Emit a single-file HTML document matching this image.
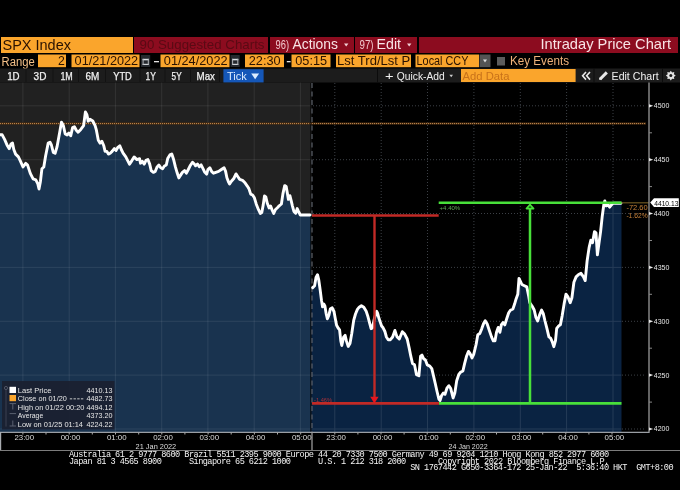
<!DOCTYPE html>
<html><head><meta charset="utf-8"><title>SPX Index Intraday Price Chart</title><style>
*{margin:0;padding:0;box-sizing:border-box}
html,body{width:680px;height:490px;background:#000;overflow:hidden}
body{position:relative;font-family:"Liberation Sans",sans-serif}
.ft{position:absolute;font-family:"Liberation Mono",monospace;font-size:8.6px;letter-spacing:-0.545px;line-height:8px;color:#f4f4f4;white-space:pre}
</style></head><body>
<svg style="position:absolute;left:0;top:0" width="680" height="490" viewBox="0 0 680 490" font-family="Liberation Sans, sans-serif"><rect x="1" y="37" width="132" height="16" fill="#faa52c"/><rect x="134" y="37" width="134" height="16" fill="#8c0c1f"/><rect x="270" y="37" width="84" height="16" fill="#8c0c1f"/><rect x="355" y="37" width="62" height="16" fill="#8c0c1f"/><rect x="419" y="37" width="259" height="16" fill="#8c0c1f"/><text x="2.50" y="50.00" font-size="14.4" fill="#2a1200" textLength="68.50" lengthAdjust="spacingAndGlyphs">SPX Index</text><text x="139.50" y="49.30" font-size="12.8" fill="#5a0a14" textLength="125.00" lengthAdjust="spacingAndGlyphs">90 Suggested Charts</text><text x="275.50" y="49.30" font-size="12" fill="#f1c6cc" textLength="13.50" lengthAdjust="spacingAndGlyphs">96)</text><text x="292.50" y="49.30" font-size="14" fill="#f8e4e6" textLength="45.50" lengthAdjust="spacingAndGlyphs">Actions</text><polygon points="344,43.5 348.4,43.5 346.2,46.5" fill="#f1d0d4"/><text x="359.50" y="49.30" font-size="12" fill="#f1c6cc" textLength="14.00" lengthAdjust="spacingAndGlyphs">97)</text><text x="376.50" y="49.30" font-size="14" fill="#f8e4e6" textLength="24.50" lengthAdjust="spacingAndGlyphs">Edit</text><polygon points="407,43.5 411.4,43.5 409.2,46.5" fill="#f1d0d4"/><text x="540.50" y="49.30" font-size="14.4" fill="#f8e4e6" textLength="130.50" lengthAdjust="spacingAndGlyphs">Intraday Price Chart</text><rect x="38" y="54.5" width="28" height="12.7" fill="#faa52c"/><rect x="71.5" y="54.5" width="68.0" height="12.7" fill="#faa52c"/><rect x="160.5" y="54.5" width="69.0" height="12.7" fill="#faa52c"/><rect x="245" y="54.5" width="39" height="12.7" fill="#faa52c"/><rect x="291.5" y="54.5" width="39.0" height="12.7" fill="#faa52c"/><rect x="336" y="54.5" width="75" height="12.7" fill="#faa52c"/><rect x="415.5" y="54.5" width="63.5" height="12.7" fill="#faa52c"/><text x="1.60" y="66.00" font-size="12" fill="#f4c088" textLength="33.20" lengthAdjust="spacingAndGlyphs">Range</text><text x="58.00" y="65.20" font-size="12" fill="#2a1200" textLength="6.80" lengthAdjust="spacingAndGlyphs">2</text><text x="74.60" y="65.20" font-size="12.4" fill="#2a1200" textLength="63.60" lengthAdjust="spacingAndGlyphs">01/21/2022</text><text x="163.80" y="65.20" font-size="12.4" fill="#2a1200" textLength="63.80" lengthAdjust="spacingAndGlyphs">01/24/2022</text><text x="248.80" y="65.20" font-size="12.4" fill="#2a1200" textLength="31.80" lengthAdjust="spacingAndGlyphs">22:30</text><text x="295.30" y="65.20" font-size="12.4" fill="#2a1200" textLength="31.80" lengthAdjust="spacingAndGlyphs">05:15</text><text x="337.00" y="65.20" font-size="12.4" fill="#2a1200" textLength="73.30" lengthAdjust="spacingAndGlyphs">Lst Trd/Lst P</text><text x="416.60" y="65.20" font-size="12.4" fill="#2a1200" textLength="51.80" lengthAdjust="spacingAndGlyphs">Local CCY</text><rect x="141" y="55" width="9.2" height="12" fill="#25292e"/><rect x="142.6" y="58.8" width="6.2" height="1.5" fill="#dde1e5"/><rect x="142.6" y="63.8" width="6.2" height="1.2" fill="#cfd3d7"/><rect x="142.6" y="58.8" width="1" height="6.2" fill="#aeb2b6"/><rect x="147.8" y="58.8" width="1" height="6.2" fill="#aeb2b6"/><rect x="230.5" y="55" width="9.2" height="12" fill="#25292e"/><rect x="232.1" y="58.8" width="6.2" height="1.5" fill="#dde1e5"/><rect x="232.1" y="63.8" width="6.2" height="1.2" fill="#cfd3d7"/><rect x="232.1" y="58.8" width="1" height="6.2" fill="#aeb2b6"/><rect x="237.3" y="58.8" width="1" height="6.2" fill="#aeb2b6"/><rect x="154" y="61" width="5" height="1.3" fill="#e4e4e4"/><rect x="286.8" y="61" width="3.8" height="1.3" fill="#e4e4e4"/><rect x="479.5" y="54.5" width="11" height="12.7" fill="#545454"/><polygon points="483,59.5 487,59.5 485,62.5" fill="#e0e0e0"/><rect x="497" y="57" width="8" height="8.5" fill="#5c5c5c"/><text x="510.00" y="65.20" font-size="12.2" fill="#f0b27a" textLength="59.00" lengthAdjust="spacingAndGlyphs">Key Events</text><rect x="0" y="68.5" width="680" height="14" fill="#1c1c1c"/><rect x="25.5" y="68.5" width="1" height="14" fill="#121212"/><rect x="52.5" y="68.5" width="1" height="14" fill="#121212"/><rect x="78" y="68.5" width="1" height="14" fill="#121212"/><rect x="105" y="68.5" width="1" height="14" fill="#121212"/><rect x="139.5" y="68.5" width="1" height="14" fill="#121212"/><rect x="164.5" y="68.5" width="1" height="14" fill="#121212"/><rect x="190" y="68.5" width="1" height="14" fill="#121212"/><rect x="219" y="68.5" width="1" height="14" fill="#121212"/><rect x="377" y="68.5" width="1" height="14" fill="#0c0c0c"/><rect x="593.5" y="68.5" width="1" height="14" fill="#0c0c0c"/><rect x="662" y="68.5" width="1" height="14" fill="#0c0c0c"/><text x="7.20" y="79.70" font-size="10" fill="#f0f0f0" textLength="12.40" lengthAdjust="spacingAndGlyphs" stroke="#f0f0f0" stroke-width="0.25">1D</text><text x="33.60" y="79.70" font-size="10" fill="#f0f0f0" textLength="12.80" lengthAdjust="spacingAndGlyphs" stroke="#f0f0f0" stroke-width="0.25">3D</text><text x="60.40" y="79.70" font-size="10" fill="#f0f0f0" textLength="12.40" lengthAdjust="spacingAndGlyphs" stroke="#f0f0f0" stroke-width="0.25">1M</text><text x="85.60" y="79.70" font-size="10" fill="#f0f0f0" textLength="13.80" lengthAdjust="spacingAndGlyphs" stroke="#f0f0f0" stroke-width="0.25">6M</text><text x="113.20" y="79.70" font-size="10" fill="#f0f0f0" textLength="18.60" lengthAdjust="spacingAndGlyphs" stroke="#f0f0f0" stroke-width="0.25">YTD</text><text x="145.60" y="79.70" font-size="10" fill="#f0f0f0" textLength="10.40" lengthAdjust="spacingAndGlyphs" stroke="#f0f0f0" stroke-width="0.25">1Y</text><text x="171.60" y="79.70" font-size="10" fill="#f0f0f0" textLength="10.00" lengthAdjust="spacingAndGlyphs" stroke="#f0f0f0" stroke-width="0.25">5Y</text><text x="196.60" y="79.70" font-size="10" fill="#f0f0f0" textLength="18.40" lengthAdjust="spacingAndGlyphs" stroke="#f0f0f0" stroke-width="0.25">Max</text><rect x="223.4" y="69.2" width="40.2" height="13.6" fill="#1557b8"/><text x="227.00" y="79.70" font-size="10" fill="#dcecff" textLength="19.80" lengthAdjust="spacingAndGlyphs">Tick</text><polygon points="251.2,73.6 259.1,73.6 255.15,79.2" fill="#dcecff"/><text x="385.00" y="79.70" font-size="11" fill="#f0f0f0" textLength="8.60" lengthAdjust="spacingAndGlyphs">+</text><text x="396.80" y="79.70" font-size="10.4" fill="#f0f0f0" textLength="48.00" lengthAdjust="spacingAndGlyphs">Quick-Add</text><polygon points="449.4,74.8 453,74.8 451.2,77.3" fill="#cfcfcf"/><rect x="461" y="69" width="114.6" height="13" fill="#faa52c"/><text x="462.60" y="79.60" font-size="11" fill="#c8721a" textLength="46.80" lengthAdjust="spacingAndGlyphs">Add Data</text><path d="M586,72 L582.6,75.8 L586,79.6 M590,72 L586.6,75.8 L590,79.6" stroke="#e8e8e8" stroke-width="1.6" fill="none"/><path d="M600,79.2 L606.8,72.4" stroke="#e8e8e8" stroke-width="3" fill="none"/><polygon points="599.2,80 599.6,77.4 601.8,79.6" fill="#e8e8e8"/><text x="611.60" y="79.70" font-size="10.6" fill="#f0f0f0" textLength="47.00" lengthAdjust="spacingAndGlyphs">Edit Chart</text><polygon points="675.7,75.6 673.9,76.9 674.3,79.1 672.1,78.7 670.8,80.5 669.5,78.7 667.3,79.1 667.7,76.9 665.9,75.6 667.7,74.3 667.3,72.1 669.5,72.5 670.8,70.7 672.1,72.5 674.3,72.1 673.9,74.3" fill="#e4e4e4"/><circle cx="670.8" cy="75.6" r="1.5" fill="#1c1c1c"/><rect x="0" y="82.5" width="311.5" height="349.5" fill="#212121"/><polygon points="0.0,432.0 0.0,134.8 2.2,134.8 4.6,139.4 7.4,145.8 9.2,148.6 11.0,144.0 12.5,143.1 13.8,149.5 15.6,154.1 18.4,156.9 20.2,160.6 23.0,167.0 25.7,163.3 27.6,165.1 30.3,173.4 33.1,178.9 35.8,179.9 37.7,183.5 39.0,189.0 40.4,181.7 41.9,168.8 43.8,167.0 45.6,156.0 48.2,143.1 50.0,142.2 51.4,145.0 53.3,152.4 55.1,153.3 57.0,146.9 59.7,132.2 61.5,122.1 63.4,125.7 65.2,134.0 67.1,134.9 68.9,133.1 70.7,135.8 72.6,127.6 74.4,126.7 76.3,130.3 78.1,132.2 80.8,129.4 83.6,125.7 85.4,112.0 86.9,114.7 88.2,121.1 90.0,119.3 92.8,121.0 95.1,125.6 96.4,130.2 98.3,140.3 100.1,143.1 101.9,141.3 103.8,145.8 105.1,151.4 106.9,151.4 108.4,154.1 110.2,153.2 112.1,151.4 114.3,148.6 116.1,150.4 117.6,147.7 119.8,145.8 121.3,149.5 123.1,153.2 125.8,156.9 127.7,160.6 129.5,164.2 131.9,160.6 134.1,156.9 136.9,159.6 139.6,158.7 140.5,163.2 142.4,161.4 144.2,164.1 146.0,160.4 147.9,159.5 149.7,164.1 151.2,170.6 153.4,172.4 155.2,171.5 157.1,166.9 158.9,165.0 160.7,167.8 162.6,168.7 164.4,166.0 166.3,165.0 167.7,158.6 169.9,154.9 171.8,154.0 173.6,159.5 175.4,166.9 177.3,173.3 178.8,177.9 180.6,175.1 182.4,172.4 184.6,170.6 186.4,173.2 188.3,169.5 190.1,165.8 192.5,162.2 194.3,164.0 195.6,165.8 197.5,164.0 199.3,166.8 201.1,164.9 203.0,168.6 204.8,172.3 206.7,174.1 207.9,169.5 209.8,167.7 211.6,171.4 213.5,173.2 215.8,172.3 218.6,171.4 221.4,169.5 224.1,167.7 225.6,171.4 226.9,177.8 228.7,182.4 229.6,184.0 231.4,181.3 233.8,178.5 236.0,173.9 237.9,176.7 239.7,179.4 242.5,180.3 245.2,183.1 247.1,185.8 248.9,188.6 250.7,194.1 252.6,195.0 254.4,197.8 256.3,204.2 258.5,209.7 260.3,213.4 261.8,212.5 263.2,205.1 264.5,196.0 265.8,196.9 267.3,203.3 269.1,207.9 270.6,206.1 272.4,210.7 273.7,213.4 275.5,209.5 277.4,207.7 279.2,205.8 281.4,204.0 282.9,193.9 284.7,185.6 286.2,186.5 287.5,193.9 288.4,199.4 289.9,195.7 291.1,200.3 292.4,205.8 293.9,211.4 295.7,213.2 297.2,208.6 298.5,211.4 300.3,215.0 303.1,215.0 310.0,215.0 311.0,215.0 311.0,432.0" fill="#19334f"/><line x1="22.9" y1="82.5" x2="22.9" y2="432" stroke="#fff" stroke-width="1" opacity="0.08"/><line x1="69.2" y1="82.5" x2="69.2" y2="432" stroke="#fff" stroke-width="1" opacity="0.08"/><line x1="115.4" y1="82.5" x2="115.4" y2="432" stroke="#fff" stroke-width="1" opacity="0.08"/><line x1="161.7" y1="82.5" x2="161.7" y2="432" stroke="#fff" stroke-width="1" opacity="0.08"/><line x1="207.9" y1="82.5" x2="207.9" y2="432" stroke="#fff" stroke-width="1" opacity="0.08"/><line x1="254.2" y1="82.5" x2="254.2" y2="432" stroke="#fff" stroke-width="1" opacity="0.08"/><line x1="300.4" y1="82.5" x2="300.4" y2="432" stroke="#fff" stroke-width="1" opacity="0.08"/><line x1="0" y1="105.8" x2="311" y2="105.8" stroke="#fff" stroke-width="1" opacity="0.08"/><line x1="0" y1="159.7" x2="311" y2="159.7" stroke="#fff" stroke-width="1" opacity="0.08"/><line x1="0" y1="213.5" x2="311" y2="213.5" stroke="#fff" stroke-width="1" opacity="0.08"/><line x1="0" y1="267.4" x2="311" y2="267.4" stroke="#fff" stroke-width="1" opacity="0.08"/><line x1="0" y1="321.3" x2="311" y2="321.3" stroke="#fff" stroke-width="1" opacity="0.08"/><line x1="0" y1="375.1" x2="311" y2="375.1" stroke="#fff" stroke-width="1" opacity="0.08"/><line x1="0" y1="429.0" x2="311" y2="429.0" stroke="#fff" stroke-width="1" opacity="0.08"/><line x1="334.8" y1="83" x2="334.8" y2="432" stroke="#3c4046" stroke-width="1" stroke-dasharray="1,2"/><line x1="381.2" y1="83" x2="381.2" y2="432" stroke="#3c4046" stroke-width="1" stroke-dasharray="1,2"/><line x1="427.5" y1="83" x2="427.5" y2="432" stroke="#3c4046" stroke-width="1" stroke-dasharray="1,2"/><line x1="473.9" y1="83" x2="473.9" y2="432" stroke="#3c4046" stroke-width="1" stroke-dasharray="1,2"/><line x1="520.3" y1="83" x2="520.3" y2="432" stroke="#3c4046" stroke-width="1" stroke-dasharray="1,2"/><line x1="566.6" y1="83" x2="566.6" y2="432" stroke="#3c4046" stroke-width="1" stroke-dasharray="1,2"/><line x1="613.0" y1="83" x2="613.0" y2="432" stroke="#3c4046" stroke-width="1" stroke-dasharray="1,2"/><line x1="313" y1="105.8" x2="646" y2="105.8" stroke="#3c4046" stroke-width="1" stroke-dasharray="1,2"/><line x1="313" y1="159.7" x2="646" y2="159.7" stroke="#3c4046" stroke-width="1" stroke-dasharray="1,2"/><line x1="313" y1="213.5" x2="646" y2="213.5" stroke="#3c4046" stroke-width="1" stroke-dasharray="1,2"/><line x1="313" y1="267.4" x2="646" y2="267.4" stroke="#3c4046" stroke-width="1" stroke-dasharray="1,2"/><line x1="313" y1="321.3" x2="646" y2="321.3" stroke="#3c4046" stroke-width="1" stroke-dasharray="1,2"/><line x1="313" y1="375.1" x2="646" y2="375.1" stroke="#3c4046" stroke-width="1" stroke-dasharray="1,2"/><line x1="313" y1="429.0" x2="646" y2="429.0" stroke="#3c4046" stroke-width="1" stroke-dasharray="1,2"/><polygon points="311.5,432.0 311.5,287.6 312.7,287.6 314.6,285.7 316.0,277.5 317.5,274.7 318.8,280.2 320.1,289.4 321.5,300.4 322.5,306.9 323.8,304.1 324.9,306.0 326.1,313.3 327.4,318.8 328.9,315.1 330.4,308.7 332.2,307.8 334.0,311.5 335.3,318.8 336.6,325.3 338.1,328.0 339.6,329.9 340.8,340.9 341.8,345.5 343.6,337.2 345.1,335.4 346.4,340.9 348.2,346.4 350.0,343.5 351.8,333.3 353.7,320.4 355.5,314.0 357.4,309.4 359.2,307.2 361.4,305.7 363.8,307.2 366.2,311.3 368.0,316.8 369.9,324.1 371.1,328.7 372.4,327.8 374.5,318.0 376.7,311.3 377.6,313.1 379.0,318.6 380.3,322.3 381.6,326.0 383.1,327.8 384.9,331.5 386.4,337.0 388.2,339.7 390.4,339.7 392.6,337.0 394.9,330.4 396.9,336.6 399.3,339.0 402.3,331.7 404.7,334.1 407.2,339.0 409.1,347.6 410.8,356.2 412.5,363.5 414.5,364.8 416.5,374.6 418.9,375.8 420.6,356.2 422.0,355.1 423.7,358.8 425.4,360.0 427.3,364.9 429.8,366.1 431.8,368.6 433.5,375.9 435.2,383.3 437.1,391.8 438.9,399.2 440.1,400.4 441.6,395.5 443.3,393.1 445.0,394.3 446.9,388.2 448.9,385.7 450.6,388.2 453.1,398.0 454.8,393.1 456.7,380.8 458.7,374.7 460.4,372.3 462.9,371.0 464.6,363.7 466.5,356.3 468.5,351.4 470.2,353.9 472.0,358.0 473.7,354.3 476.1,344.5 477.8,334.7 479.8,333.5 481.8,328.6 483.5,323.7 485.2,320.7 487.1,323.7 489.1,329.8 491.6,337.1 493.3,340.8 495.0,340.8 496.5,332.3 498.2,327.4 499.9,332.3 501.3,324.9 503.0,322.5 504.8,324.9 506.7,318.8 508.7,312.7 510.4,310.2 512.9,309.0 514.6,304.1 516.0,299.2 517.8,294.3 519.0,278.4 520.2,280.8 521.9,284.5 524.4,285.7 526.8,286.9 528.8,296.7 529.8,302.7 532.2,306.3 534.2,310.0 535.9,317.4 537.6,321.0 539.6,314.9 541.6,310.0 543.3,313.7 545.0,321.0 546.9,328.4 548.9,336.9 550.6,338.2 552.3,341.8 553.8,346.7 555.5,340.6 556.7,328.4 558.7,325.9 560.4,324.7 562.1,316.1 564.1,303.9 566.0,294.1 567.8,296.5 570.2,302.7 571.9,297.8 573.9,282.3 576.1,276.9 578.6,274.5 581.0,273.3 583.5,276.9 585.2,280.6 587.1,261.0 589.1,247.6 590.8,240.2 592.5,242.7 594.5,231.6 596.0,232.9 597.4,254.9 598.9,243.9 600.6,231.6 602.3,215.7 603.8,204.7 604.8,201.0 606.2,205.9 608.0,204.7 609.7,207.1 611.6,204.7 612.9,203.2 621.0,203.2 621.5,202.0 621.5,432.0" fill="#0a2342"/><clipPath id="rc"><polygon points="311.5,432.0 311.5,287.6 312.7,287.6 314.6,285.7 316.0,277.5 317.5,274.7 318.8,280.2 320.1,289.4 321.5,300.4 322.5,306.9 323.8,304.1 324.9,306.0 326.1,313.3 327.4,318.8 328.9,315.1 330.4,308.7 332.2,307.8 334.0,311.5 335.3,318.8 336.6,325.3 338.1,328.0 339.6,329.9 340.8,340.9 341.8,345.5 343.6,337.2 345.1,335.4 346.4,340.9 348.2,346.4 350.0,343.5 351.8,333.3 353.7,320.4 355.5,314.0 357.4,309.4 359.2,307.2 361.4,305.7 363.8,307.2 366.2,311.3 368.0,316.8 369.9,324.1 371.1,328.7 372.4,327.8 374.5,318.0 376.7,311.3 377.6,313.1 379.0,318.6 380.3,322.3 381.6,326.0 383.1,327.8 384.9,331.5 386.4,337.0 388.2,339.7 390.4,339.7 392.6,337.0 394.9,330.4 396.9,336.6 399.3,339.0 402.3,331.7 404.7,334.1 407.2,339.0 409.1,347.6 410.8,356.2 412.5,363.5 414.5,364.8 416.5,374.6 418.9,375.8 420.6,356.2 422.0,355.1 423.7,358.8 425.4,360.0 427.3,364.9 429.8,366.1 431.8,368.6 433.5,375.9 435.2,383.3 437.1,391.8 438.9,399.2 440.1,400.4 441.6,395.5 443.3,393.1 445.0,394.3 446.9,388.2 448.9,385.7 450.6,388.2 453.1,398.0 454.8,393.1 456.7,380.8 458.7,374.7 460.4,372.3 462.9,371.0 464.6,363.7 466.5,356.3 468.5,351.4 470.2,353.9 472.0,358.0 473.7,354.3 476.1,344.5 477.8,334.7 479.8,333.5 481.8,328.6 483.5,323.7 485.2,320.7 487.1,323.7 489.1,329.8 491.6,337.1 493.3,340.8 495.0,340.8 496.5,332.3 498.2,327.4 499.9,332.3 501.3,324.9 503.0,322.5 504.8,324.9 506.7,318.8 508.7,312.7 510.4,310.2 512.9,309.0 514.6,304.1 516.0,299.2 517.8,294.3 519.0,278.4 520.2,280.8 521.9,284.5 524.4,285.7 526.8,286.9 528.8,296.7 529.8,302.7 532.2,306.3 534.2,310.0 535.9,317.4 537.6,321.0 539.6,314.9 541.6,310.0 543.3,313.7 545.0,321.0 546.9,328.4 548.9,336.9 550.6,338.2 552.3,341.8 553.8,346.7 555.5,340.6 556.7,328.4 558.7,325.9 560.4,324.7 562.1,316.1 564.1,303.9 566.0,294.1 567.8,296.5 570.2,302.7 571.9,297.8 573.9,282.3 576.1,276.9 578.6,274.5 581.0,273.3 583.5,276.9 585.2,280.6 587.1,261.0 589.1,247.6 590.8,240.2 592.5,242.7 594.5,231.6 596.0,232.9 597.4,254.9 598.9,243.9 600.6,231.6 602.3,215.7 603.8,204.7 604.8,201.0 606.2,205.9 608.0,204.7 609.7,207.1 611.6,204.7 612.9,203.2 621.0,203.2 621.5,202.0 621.5,432.0"/></clipPath><g clip-path="url(#rc)" stroke="#fff" stroke-width="1" opacity="0.11"><line x1="334.8" y1="83" x2="334.8" y2="432"/><line x1="381.2" y1="83" x2="381.2" y2="432"/><line x1="427.5" y1="83" x2="427.5" y2="432"/><line x1="473.9" y1="83" x2="473.9" y2="432"/><line x1="520.3" y1="83" x2="520.3" y2="432"/><line x1="566.6" y1="83" x2="566.6" y2="432"/><line x1="613.0" y1="83" x2="613.0" y2="432"/><line x1="311" y1="105.8" x2="622" y2="105.8"/><line x1="311" y1="159.7" x2="622" y2="159.7"/><line x1="311" y1="213.5" x2="622" y2="213.5"/><line x1="311" y1="267.4" x2="622" y2="267.4"/><line x1="311" y1="321.3" x2="622" y2="321.3"/><line x1="311" y1="375.1" x2="622" y2="375.1"/><line x1="311" y1="429.0" x2="622" y2="429.0"/></g><line x1="0" y1="123.6" x2="646" y2="123.6" stroke="#4a2c10" stroke-width="2"/><line x1="0" y1="123.6" x2="646" y2="123.6" stroke="#c08a50" stroke-width="1" stroke-dasharray="1,1"/><line x1="310.5" y1="83" x2="310.5" y2="432" stroke="#000" stroke-width="1" opacity="0.6"/><line x1="312" y1="83" x2="312" y2="432" stroke="#5a5f68" stroke-width="1.2" stroke-dasharray="5,3.5"/><polyline points="0.0,134.8 2.2,134.8 4.6,139.4 7.4,145.8 9.2,148.6 11.0,144.0 12.5,143.1 13.8,149.5 15.6,154.1 18.4,156.9 20.2,160.6 23.0,167.0 25.7,163.3 27.6,165.1 30.3,173.4 33.1,178.9 35.8,179.9 37.7,183.5 39.0,189.0 40.4,181.7 41.9,168.8 43.8,167.0 45.6,156.0 48.2,143.1 50.0,142.2 51.4,145.0 53.3,152.4 55.1,153.3 57.0,146.9 59.7,132.2 61.5,122.1 63.4,125.7 65.2,134.0 67.1,134.9 68.9,133.1 70.7,135.8 72.6,127.6 74.4,126.7 76.3,130.3 78.1,132.2 80.8,129.4 83.6,125.7 85.4,112.0 86.9,114.7 88.2,121.1 90.0,119.3 92.8,121.0 95.1,125.6 96.4,130.2 98.3,140.3 100.1,143.1 101.9,141.3 103.8,145.8 105.1,151.4 106.9,151.4 108.4,154.1 110.2,153.2 112.1,151.4 114.3,148.6 116.1,150.4 117.6,147.7 119.8,145.8 121.3,149.5 123.1,153.2 125.8,156.9 127.7,160.6 129.5,164.2 131.9,160.6 134.1,156.9 136.9,159.6 139.6,158.7 140.5,163.2 142.4,161.4 144.2,164.1 146.0,160.4 147.9,159.5 149.7,164.1 151.2,170.6 153.4,172.4 155.2,171.5 157.1,166.9 158.9,165.0 160.7,167.8 162.6,168.7 164.4,166.0 166.3,165.0 167.7,158.6 169.9,154.9 171.8,154.0 173.6,159.5 175.4,166.9 177.3,173.3 178.8,177.9 180.6,175.1 182.4,172.4 184.6,170.6 186.4,173.2 188.3,169.5 190.1,165.8 192.5,162.2 194.3,164.0 195.6,165.8 197.5,164.0 199.3,166.8 201.1,164.9 203.0,168.6 204.8,172.3 206.7,174.1 207.9,169.5 209.8,167.7 211.6,171.4 213.5,173.2 215.8,172.3 218.6,171.4 221.4,169.5 224.1,167.7 225.6,171.4 226.9,177.8 228.7,182.4 229.6,184.0 231.4,181.3 233.8,178.5 236.0,173.9 237.9,176.7 239.7,179.4 242.5,180.3 245.2,183.1 247.1,185.8 248.9,188.6 250.7,194.1 252.6,195.0 254.4,197.8 256.3,204.2 258.5,209.7 260.3,213.4 261.8,212.5 263.2,205.1 264.5,196.0 265.8,196.9 267.3,203.3 269.1,207.9 270.6,206.1 272.4,210.7 273.7,213.4 275.5,209.5 277.4,207.7 279.2,205.8 281.4,204.0 282.9,193.9 284.7,185.6 286.2,186.5 287.5,193.9 288.4,199.4 289.9,195.7 291.1,200.3 292.4,205.8 293.9,211.4 295.7,213.2 297.2,208.6 298.5,211.4 300.3,215.0 303.1,215.0 310.0,215.0" fill="none" stroke="#fff" stroke-width="2.9" stroke-linejoin="round" stroke-linecap="round"/><polyline points="312.7,287.6 314.6,285.7 316.0,277.5 317.5,274.7 318.8,280.2 320.1,289.4 321.5,300.4 322.5,306.9 323.8,304.1 324.9,306.0 326.1,313.3 327.4,318.8 328.9,315.1 330.4,308.7 332.2,307.8 334.0,311.5 335.3,318.8 336.6,325.3 338.1,328.0 339.6,329.9 340.8,340.9 341.8,345.5 343.6,337.2 345.1,335.4 346.4,340.9 348.2,346.4 350.0,343.5 351.8,333.3 353.7,320.4 355.5,314.0 357.4,309.4 359.2,307.2 361.4,305.7 363.8,307.2 366.2,311.3 368.0,316.8 369.9,324.1 371.1,328.7 372.4,327.8 374.5,318.0 376.7,311.3 377.6,313.1 379.0,318.6 380.3,322.3 381.6,326.0 383.1,327.8 384.9,331.5 386.4,337.0 388.2,339.7 390.4,339.7 392.6,337.0 394.9,330.4 396.9,336.6 399.3,339.0 402.3,331.7 404.7,334.1 407.2,339.0 409.1,347.6 410.8,356.2 412.5,363.5 414.5,364.8 416.5,374.6 418.9,375.8 420.6,356.2 422.0,355.1 423.7,358.8 425.4,360.0 427.3,364.9 429.8,366.1 431.8,368.6 433.5,375.9 435.2,383.3 437.1,391.8 438.9,399.2 440.1,400.4 441.6,395.5 443.3,393.1 445.0,394.3 446.9,388.2 448.9,385.7 450.6,388.2 453.1,398.0 454.8,393.1 456.7,380.8 458.7,374.7 460.4,372.3 462.9,371.0 464.6,363.7 466.5,356.3 468.5,351.4 470.2,353.9 472.0,358.0 473.7,354.3 476.1,344.5 477.8,334.7 479.8,333.5 481.8,328.6 483.5,323.7 485.2,320.7 487.1,323.7 489.1,329.8 491.6,337.1 493.3,340.8 495.0,340.8 496.5,332.3 498.2,327.4 499.9,332.3 501.3,324.9 503.0,322.5 504.8,324.9 506.7,318.8 508.7,312.7 510.4,310.2 512.9,309.0 514.6,304.1 516.0,299.2 517.8,294.3 519.0,278.4 520.2,280.8 521.9,284.5 524.4,285.7 526.8,286.9 528.8,296.7 529.8,302.7 532.2,306.3 534.2,310.0 535.9,317.4 537.6,321.0 539.6,314.9 541.6,310.0 543.3,313.7 545.0,321.0 546.9,328.4 548.9,336.9 550.6,338.2 552.3,341.8 553.8,346.7 555.5,340.6 556.7,328.4 558.7,325.9 560.4,324.7 562.1,316.1 564.1,303.9 566.0,294.1 567.8,296.5 570.2,302.7 571.9,297.8 573.9,282.3 576.1,276.9 578.6,274.5 581.0,273.3 583.5,276.9 585.2,280.6 587.1,261.0 589.1,247.6 590.8,240.2 592.5,242.7 594.5,231.6 596.0,232.9 597.4,254.9 598.9,243.9 600.6,231.6 602.3,215.7 603.8,204.7 604.8,201.0 606.2,205.9 608.0,204.7 609.7,207.1 611.6,204.7 612.9,203.2 621.0,203.2" fill="none" stroke="#fff" stroke-width="2.9" stroke-linejoin="round" stroke-linecap="round"/><line x1="621" y1="202.8" x2="649" y2="202.8" stroke="#6b5420" stroke-width="1.2"/><line x1="312" y1="215.5" x2="438.7" y2="215.5" stroke="#c22a26" stroke-width="2.6"/><line x1="374.5" y1="215.5" x2="374.5" y2="398" stroke="#c22a26" stroke-width="2.4"/><line x1="312" y1="403.4" x2="439" y2="403.4" stroke="#c22a26" stroke-width="2.6"/><polygon points="370.2,396.8 378.6,396.8 374.4,403.4" fill="#e8161e"/><text x="314.00" y="401.50" font-size="6" fill="#a8323a" textLength="18.00" lengthAdjust="spacingAndGlyphs">-1.46%</text><line x1="438.7" y1="202.8" x2="621.5" y2="202.8" stroke="#48e03a" stroke-width="2.6"/><line x1="439" y1="403.4" x2="621.5" y2="403.4" stroke="#48e03a" stroke-width="2.6"/><line x1="530" y1="209" x2="530" y2="403.4" stroke="#48e03a" stroke-width="2.5"/><polygon points="530,204.6 533.6,208.6 526.4,208.6" fill="#123a12" stroke="#48e03a" stroke-width="1.6" stroke-linejoin="round"/><text x="439.60" y="209.90" font-size="6" fill="#62a858" textLength="20.60" lengthAdjust="spacingAndGlyphs">+4.40%</text><text x="626.40" y="210.10" font-size="7.2" fill="#c8823a" textLength="21.20" lengthAdjust="spacingAndGlyphs">-72.60</text><text x="626.40" y="217.80" font-size="7.2" fill="#c8823a" textLength="21.20" lengthAdjust="spacingAndGlyphs">-1.62%</text><line x1="649" y1="82.5" x2="649" y2="432.6" stroke="#8e8e8e" stroke-width="1.4"/><polygon points="649,427.4 653.2,429.0 649,430.6" fill="#e8e8e8"/><text x="653.80" y="431.49" font-size="7.2" fill="#e6e6e6" textLength="15.60" lengthAdjust="spacingAndGlyphs">4200</text><polygon points="649,373.5 653.2,375.1 649,376.7" fill="#e8e8e8"/><text x="653.80" y="377.63" font-size="7.2" fill="#e6e6e6" textLength="15.60" lengthAdjust="spacingAndGlyphs">4250</text><polygon points="649,319.7 653.2,321.3 649,322.9" fill="#e8e8e8"/><text x="653.80" y="323.77" font-size="7.2" fill="#e6e6e6" textLength="15.60" lengthAdjust="spacingAndGlyphs">4300</text><polygon points="649,265.8 653.2,267.4 649,269.0" fill="#e8e8e8"/><text x="653.80" y="269.91" font-size="7.2" fill="#e6e6e6" textLength="15.60" lengthAdjust="spacingAndGlyphs">4350</text><polygon points="649,211.9 653.2,213.5 649,215.1" fill="#e8e8e8"/><text x="653.80" y="216.05" font-size="7.2" fill="#e6e6e6" textLength="15.60" lengthAdjust="spacingAndGlyphs">4400</text><polygon points="649,158.1 653.2,159.7 649,161.3" fill="#e8e8e8"/><text x="653.80" y="162.19" font-size="7.2" fill="#e6e6e6" textLength="15.60" lengthAdjust="spacingAndGlyphs">4450</text><polygon points="649,104.2 653.2,105.8 649,107.4" fill="#e8e8e8"/><text x="653.80" y="108.33" font-size="7.2" fill="#e6e6e6" textLength="15.60" lengthAdjust="spacingAndGlyphs">4500</text><line x1="649" y1="402.1" x2="652" y2="402.1" stroke="#888" stroke-width="1"/><line x1="649" y1="348.2" x2="652" y2="348.2" stroke="#888" stroke-width="1"/><line x1="649" y1="294.3" x2="652" y2="294.3" stroke="#888" stroke-width="1"/><line x1="649" y1="240.5" x2="652" y2="240.5" stroke="#888" stroke-width="1"/><line x1="649" y1="186.6" x2="652" y2="186.6" stroke="#888" stroke-width="1"/><line x1="649" y1="132.8" x2="652" y2="132.8" stroke="#888" stroke-width="1"/><polygon points="650.2,202.6 654,198.2 678.8,198.2 678.8,207.1 654,207.1" fill="#fff"/><text x="654.20" y="205.50" font-size="7.2" fill="#000" textLength="24.20" lengthAdjust="spacingAndGlyphs">4410.13</text><rect x="2" y="381" width="112.5" height="48.5" fill="rgba(26,32,48,0.92)"/><rect x="5.5" y="389.6" width="1" height="37" fill="#3a4150"/><rect x="9.5" y="386.8" width="6.5" height="6.2" fill="#fff"/><rect x="9.5" y="395" width="6.5" height="6.2" fill="#faa52c"/><rect x="69.8" y="398.4" width="2.4" height="0.9" fill="#d8d8d8"/><rect x="73.5" y="398.4" width="2.4" height="0.9" fill="#d8d8d8"/><rect x="77.2" y="398.4" width="2.4" height="0.9" fill="#d8d8d8"/><rect x="80.9" y="398.4" width="2.4" height="0.9" fill="#d8d8d8"/><circle cx="6" cy="388" r="1.6" fill="none" stroke="#5a6070" stroke-width="0.8"/><path d="M9.6,403.6 H16 M12.8,403.6 V409.5" stroke="#5a6070" stroke-width="1" fill="none"/><path d="M9.6,413.6 H16" stroke="#5a6070" stroke-width="1" fill="none"/><path d="M9.6,426 H16 M12.8,420.5 V426" stroke="#5a6070" stroke-width="1" fill="none"/><text x="17.80" y="392.70" font-size="7.4" fill="#e6e6e6" textLength="33.60" lengthAdjust="spacingAndGlyphs">Last Price</text><text x="86.40" y="392.70" font-size="7.4" fill="#e6e6e6" textLength="26.00" lengthAdjust="spacingAndGlyphs">4410.13</text><text x="17.80" y="401.15" font-size="7.4" fill="#e6e6e6" textLength="49.00" lengthAdjust="spacingAndGlyphs">Close on 01/20</text><text x="86.40" y="401.15" font-size="7.4" fill="#e6e6e6" textLength="26.00" lengthAdjust="spacingAndGlyphs">4482.73</text><text x="17.80" y="409.60" font-size="7.4" fill="#e6e6e6" textLength="66.60" lengthAdjust="spacingAndGlyphs">High on 01/22 00:20</text><text x="86.40" y="409.60" font-size="7.4" fill="#e6e6e6" textLength="26.00" lengthAdjust="spacingAndGlyphs">4494.12</text><text x="17.80" y="418.05" font-size="7.4" fill="#e6e6e6" textLength="25.40" lengthAdjust="spacingAndGlyphs">Average</text><text x="86.40" y="418.05" font-size="7.4" fill="#e6e6e6" textLength="26.00" lengthAdjust="spacingAndGlyphs">4373.20</text><text x="17.80" y="426.50" font-size="7.4" fill="#e6e6e6" textLength="65.20" lengthAdjust="spacingAndGlyphs">Low on 01/25 01:14</text><text x="86.40" y="426.50" font-size="7.4" fill="#e6e6e6" textLength="26.00" lengthAdjust="spacingAndGlyphs">4224.22</text><rect x="0" y="432" width="622" height="18" fill="#000"/><line x1="0" y1="432.4" x2="649.5" y2="432.4" stroke="#9a9ea4" stroke-width="1.1"/><line x1="0.6" y1="432" x2="0.6" y2="450" stroke="#a8acb0" stroke-width="1.2"/><line x1="0" y1="450.5" x2="680" y2="450.5" stroke="#7c7c7c" stroke-width="1"/><line x1="312" y1="432" x2="312" y2="450" stroke="#9a9a9a" stroke-width="1.3"/><text x="14.40" y="440.30" font-size="7.4" fill="#dcdcdc" textLength="19.70" lengthAdjust="spacingAndGlyphs">23:00</text><text x="60.65" y="440.30" font-size="7.4" fill="#dcdcdc" textLength="19.70" lengthAdjust="spacingAndGlyphs">00:00</text><text x="106.90" y="440.30" font-size="7.4" fill="#dcdcdc" textLength="19.70" lengthAdjust="spacingAndGlyphs">01:00</text><text x="153.15" y="440.30" font-size="7.4" fill="#dcdcdc" textLength="19.70" lengthAdjust="spacingAndGlyphs">02:00</text><text x="199.40" y="440.30" font-size="7.4" fill="#dcdcdc" textLength="19.70" lengthAdjust="spacingAndGlyphs">03:00</text><text x="245.65" y="440.30" font-size="7.4" fill="#dcdcdc" textLength="19.70" lengthAdjust="spacingAndGlyphs">04:00</text><text x="291.90" y="440.30" font-size="7.4" fill="#dcdcdc" textLength="19.70" lengthAdjust="spacingAndGlyphs">05:00</text><text x="326.30" y="440.30" font-size="7.4" fill="#dcdcdc" textLength="19.70" lengthAdjust="spacingAndGlyphs">23:00</text><text x="372.67" y="440.30" font-size="7.4" fill="#dcdcdc" textLength="19.70" lengthAdjust="spacingAndGlyphs">00:00</text><text x="419.04" y="440.30" font-size="7.4" fill="#dcdcdc" textLength="19.70" lengthAdjust="spacingAndGlyphs">01:00</text><text x="465.41" y="440.30" font-size="7.4" fill="#dcdcdc" textLength="19.70" lengthAdjust="spacingAndGlyphs">02:00</text><text x="511.78" y="440.30" font-size="7.4" fill="#dcdcdc" textLength="19.70" lengthAdjust="spacingAndGlyphs">03:00</text><text x="558.15" y="440.30" font-size="7.4" fill="#dcdcdc" textLength="19.70" lengthAdjust="spacingAndGlyphs">04:00</text><text x="604.52" y="440.30" font-size="7.4" fill="#dcdcdc" textLength="19.70" lengthAdjust="spacingAndGlyphs">05:00</text><line x1="22.9" y1="432.5" x2="22.9" y2="434.5" stroke="#aaa" stroke-width="1"/><line x1="46.0" y1="432.5" x2="46.0" y2="434.5" stroke="#aaa" stroke-width="1"/><line x1="69.2" y1="432.5" x2="69.2" y2="434.5" stroke="#aaa" stroke-width="1"/><line x1="92.3" y1="432.5" x2="92.3" y2="434.5" stroke="#aaa" stroke-width="1"/><line x1="115.5" y1="432.5" x2="115.5" y2="434.5" stroke="#aaa" stroke-width="1"/><line x1="138.7" y1="432.5" x2="138.7" y2="434.5" stroke="#aaa" stroke-width="1"/><line x1="161.8" y1="432.5" x2="161.8" y2="434.5" stroke="#aaa" stroke-width="1"/><line x1="184.9" y1="432.5" x2="184.9" y2="434.5" stroke="#aaa" stroke-width="1"/><line x1="208.1" y1="432.5" x2="208.1" y2="434.5" stroke="#aaa" stroke-width="1"/><line x1="231.2" y1="432.5" x2="231.2" y2="434.5" stroke="#aaa" stroke-width="1"/><line x1="254.4" y1="432.5" x2="254.4" y2="434.5" stroke="#aaa" stroke-width="1"/><line x1="277.5" y1="432.5" x2="277.5" y2="434.5" stroke="#aaa" stroke-width="1"/><line x1="300.7" y1="432.5" x2="300.7" y2="434.5" stroke="#aaa" stroke-width="1"/><line x1="334.8" y1="432.5" x2="334.8" y2="434.5" stroke="#aaa" stroke-width="1"/><line x1="357.9" y1="432.5" x2="357.9" y2="434.5" stroke="#aaa" stroke-width="1"/><line x1="381.0" y1="432.5" x2="381.0" y2="434.5" stroke="#aaa" stroke-width="1"/><line x1="404.1" y1="432.5" x2="404.1" y2="434.5" stroke="#aaa" stroke-width="1"/><line x1="427.2" y1="432.5" x2="427.2" y2="434.5" stroke="#aaa" stroke-width="1"/><line x1="450.3" y1="432.5" x2="450.3" y2="434.5" stroke="#aaa" stroke-width="1"/><line x1="473.4" y1="432.5" x2="473.4" y2="434.5" stroke="#aaa" stroke-width="1"/><line x1="496.5" y1="432.5" x2="496.5" y2="434.5" stroke="#aaa" stroke-width="1"/><line x1="519.6" y1="432.5" x2="519.6" y2="434.5" stroke="#aaa" stroke-width="1"/><line x1="542.7" y1="432.5" x2="542.7" y2="434.5" stroke="#aaa" stroke-width="1"/><line x1="565.8" y1="432.5" x2="565.8" y2="434.5" stroke="#aaa" stroke-width="1"/><line x1="588.9" y1="432.5" x2="588.9" y2="434.5" stroke="#aaa" stroke-width="1"/><line x1="612.0" y1="432.5" x2="612.0" y2="434.5" stroke="#aaa" stroke-width="1"/><text x="135.60" y="448.60" font-size="7" fill="#dcdcdc" textLength="40.60" lengthAdjust="spacingAndGlyphs">21 Jan 2022</text><text x="448.60" y="448.60" font-size="7" fill="#dcdcdc" textLength="39.00" lengthAdjust="spacingAndGlyphs">24 Jan 2022</text></svg>
<div class="ft" style="left:69px;top:451.2px">Australia 61 2 9777 8600 Brazil 5511 2395 9000 Europe 44 20 7330 7500 Germany 49 69 9204 1210 Hong Kong 852 2977 6000</div>
<div class="ft" style="left:69px;top:457.5px">Japan 81 3 4565 8900      Singapore 65 6212 1000      U.S. 1 212 318 2000       Copyright 2022 Bloomberg Finance L.P.</div>
<div class="ft" style="left:410.2px;top:463.8px">SN 1767442 G650-3364-172 25-Jan-22  5:36:40 HKT  GMT+8:00</div>
</body></html>
